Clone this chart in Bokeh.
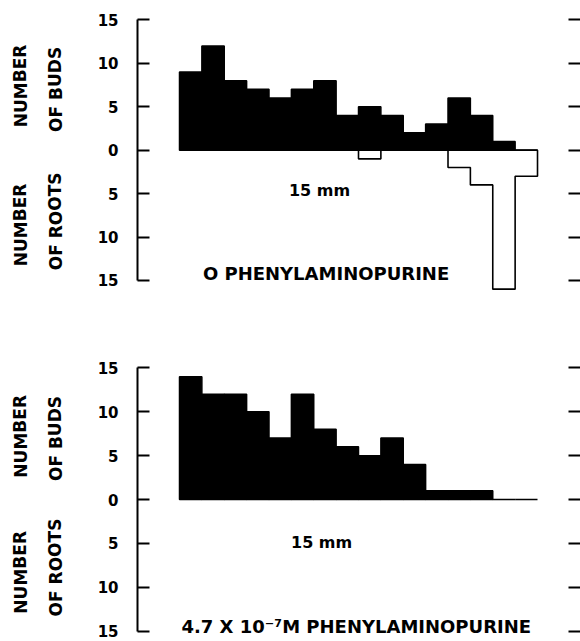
from bokeh.plotting import figure
from bokeh.models import Range1d, LinearAxis, FixedTicker, Label, ColumnDataSource
from bokeh.layouts import column, row
from bokeh.embed import file_html
from bokeh.resources import INLINE

# ---- data (16 segments of 15 mm) ----
segments = list(range(16))
buds_control = [9, 12, 8, 7, 6, 7, 8, 4, 5, 4, 2, 3, 6, 4, 1, 0]
roots_control = [0, 0, 0, 0, 0, 0, 0, 0, 1, 0, 0, 0, 2, 4, 16, 3]
buds_treated = [14, 12, 12, 10, 7, 12, 8, 6, 5, 7, 4, 1, 1, 1, 0, 0]
roots_treated = [0] * 16

tick_values = [-15, -10, -5, 0, 5, 10, 15]
tick_labels = {-15: "15", -10: "10", -5: "5", 0: "0", 5: "5", 10: "10", 15: "15"}
blank_labels = {t: "" for t in tick_values}

title_control = "O PHENYLAMINOPURINE"
title_treated = "4.7 X 10\u207b\u2077M PHENYLAMINOPURINE"
length_label = "15 mm"

FONT = "DejaVu Sans"
LABEL_W = 75
MAIN_W = 505


def root_outline(roots):
    """Outline of contiguous runs of root counts (drawn downward)."""
    xs, ys = [], []
    i, n = 0, len(roots)
    while i < n:
        if roots[i] > 0:
            j = i
            px, py = [i], [0]
            while j < n and roots[j] > 0:
                px += [j, j + 1]
                py += [-roots[j], -roots[j]]
                j += 1
            px.append(j)
            py.append(0)
            xs.append(px)
            ys.append(py)
            i = j
        else:
            i += 1
    return xs, ys


def add_label(p, x, y, text, size, angle=0.0):
    p.add_layout(Label(x=x, y=y, text=text, text_font=FONT,
                       text_font_style="bold", text_font_size=size,
                       text_align="center", text_baseline="middle",
                       angle=angle, text_color="black"))


def label_fig(height, border_top, frame_h, y_start, y_end, pos):
    q = figure(width=LABEL_W, height=height, output_backend="svg",
               toolbar_location=None, x_axis_location=None,
               y_axis_location=None,
               x_range=Range1d(0, LABEL_W), y_range=Range1d(y_start, y_end),
               min_border_left=0, min_border_right=0,
               min_border_top=border_top,
               min_border_bottom=height - border_top - frame_h)
    q.grid.visible = False
    q.outline_line_color = None
    add_label(q, 20, pos["n1"], "NUMBER", "17px", 1.5708)
    add_label(q, 55, pos["b"], "OF BUDS", "17px", 1.5708)
    add_label(q, 20, pos["n2"], "NUMBER", "17px", 1.5708)
    add_label(q, 55, pos["r"], "OF ROOTS", "17px", 1.5708)
    return q


def panel(buds, roots, title, height, border_top, frame_h, y_start, y_end, pos):
    p = figure(width=MAIN_W, height=height, output_backend="svg",
               toolbar_location=None, x_axis_location=None,
               y_axis_location="left",
               x_range=Range1d(-1.877, 17.385),
               y_range=Range1d(y_start, y_end),
               min_border_left=62, min_border_right=12,
               min_border_top=border_top,
               min_border_bottom=height - border_top - frame_h)
    p.grid.visible = False
    p.outline_line_color = None
    p.background_fill_color = "white"
    p.border_fill_color = "white"

    src = ColumnDataSource(dict(x=[s + 0.5 for s in segments], top=buds))
    p.vbar(x="x", top="top", bottom=0, width=1.0, source=src,
           fill_color="black", line_color="black", line_width=1.5)

    xs, ys = root_outline(roots)
    if xs:
        p.patches(xs, ys, fill_color="white", line_color="black",
                  line_width=1.6)

    ax = p.yaxis[0]
    ax.ticker = FixedTicker(ticks=tick_values)
    ax.bounds = (-15, 15)
    ax.major_label_overrides = tick_labels
    ax.axis_line_width = 2
    ax.axis_line_color = "black"
    ax.major_tick_line_width = 2
    ax.major_tick_in = 12
    ax.major_tick_out = 0
    ax.minor_tick_line_color = None
    ax.major_label_standoff = 19
    ax.major_label_text_font = FONT
    ax.major_label_text_font_style = "bold"
    ax.major_label_text_font_size = "15px"
    ax.major_label_text_color = "black"

    rax = LinearAxis(ticker=FixedTicker(ticks=tick_values), bounds=(-15, 15))
    rax.axis_line_alpha = 0
    rax.major_tick_in = 0
    rax.major_tick_out = 12
    rax.major_tick_line_width = 2
    rax.minor_tick_line_color = None
    rax.major_label_overrides = blank_labels
    rax.major_label_standoff = 0
    p.add_layout(rax, "right")

    add_label(p, pos["mm_x"], pos["mm_y"], length_label, "16px")
    add_label(p, pos["t_x"], pos["t_y"], title, "18px")
    return p


pos1 = dict(mm_x=6.26, mm_y=-4.7, t_x=6.55, t_y=-14.2,
            n1=7.4, b=7.0, n2=-8.6, r=-8.2)
pos2 = dict(mm_x=6.35, mm_y=-4.95, t_x=7.9, t_y=-14.5,
            n1=7.2, b=6.95, n2=-8.3, r=-7.75)

p1 = panel(buds_control, roots_control, title_control, 324, 15, 278, -16.5, 15.5, pos1)
l1 = label_fig(324, 15, 278, -16.5, 15.5, pos1)
p2 = panel(buds_treated, roots_treated, title_treated, 317, 39, 272, -15.5, 15.5, pos2)
l2 = label_fig(317, 39, 272, -15.5, 15.5, pos2)

layout = column(row(l1, p1, spacing=0), row(l2, p2, spacing=0), spacing=0)
open("out.html", "w").write(file_html(layout, INLINE))
